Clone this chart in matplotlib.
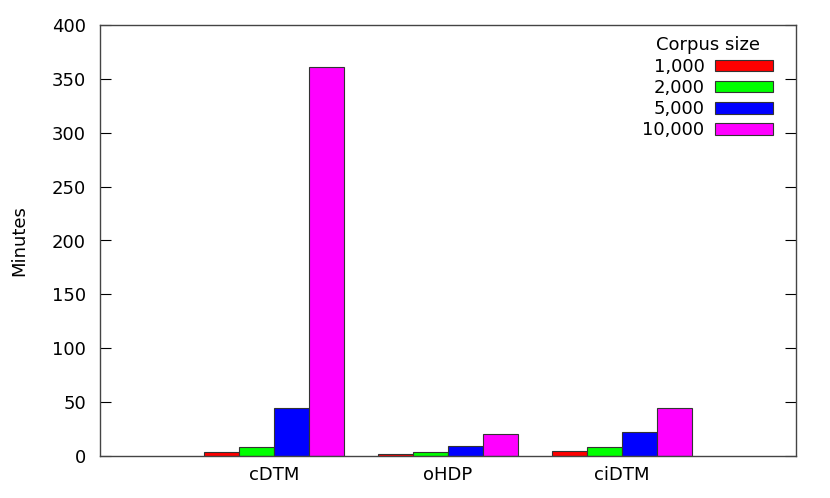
import matplotlib
matplotlib.use("Agg")
import matplotlib.pyplot as plt
import numpy as np

# data (minutes)
models = ["cDTM", "oHDP", "ciDTM"]
sizes = ["1,000", "2,000", "5,000", "10,000"]
minutes_1000 = [3.7, 1.6, 4.6]
minutes_2000 = [8.0, 3.7, 8.6]
minutes_5000 = [45.0, 9.6, 22.0]
minutes_10000 = [361.0, 20.4, 44.3]
colors = ["#ff0000", "#00ff00", "#0000ff", "#ff00ff"]

series = [minutes_1000, minutes_2000, minutes_5000, minutes_10000]

fig = plt.figure(figsize=(8.3, 4.98), dpi=100)
ax = fig.add_axes([100 / 830, 42 / 498, 696 / 830, 431 / 498])

x = np.arange(len(models))
w = 0.2
for i, vals in enumerate(series):
    ax.bar(x + (i - 1.5) * w, vals, width=w, color=colors[i], edgecolor="#333333",
           linewidth=0.8, label=sizes[i], zorder=2)

ax.set_xlim(-1, 3)
ax.set_ylim(0, 400)
ax.set_yticks(np.arange(0, 401, 50))
ax.set_xticks(x)
ax.set_xticklabels(models)
ax.set_ylabel("Minutes", fontsize=13, labelpad=17)

ax.tick_params(axis="y", direction="in", length=8, width=0.8, right=True, labelsize=13, pad=10)
ax.tick_params(axis="x", direction="in", length=0, labelsize=13, pad=7)
for s in ax.spines.values():
    s.set_color("#444444")
    s.set_linewidth(1.0)

leg = ax.legend(title="Corpus size", loc="upper right", frameon=False, markerfirst=False,
                fontsize=13, title_fontsize=13, handlelength=3.2, handleheight=0.6,
                labelspacing=0.18, handletextpad=0.6, borderaxespad=0.9,
                bbox_to_anchor=(1.001, 1.028))
for t in leg.get_texts():
    t.set_ha("right")

fig.savefig("out.png", dpi=100)
